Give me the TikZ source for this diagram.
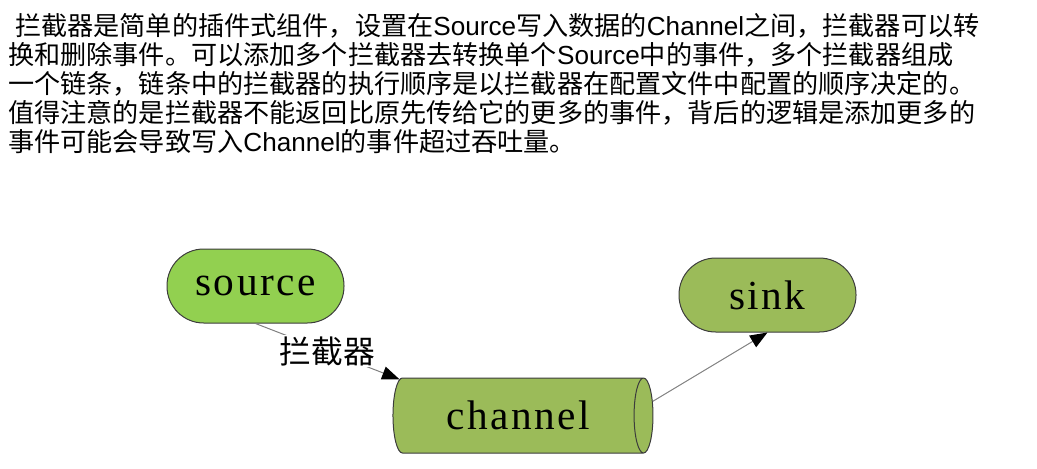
\documentclass[tikz,border=0pt]{standalone}
\usepackage{fontspec}
\usepackage{xcolor}
\setmainfont{Liberation Sans}
\newfontfamily\cjk{Noto Sans CJK SC}
\newfontfamily\nodefont[LetterSpace=6]{Liberation Serif}
\usetikzlibrary{positioning,shapes.geometric,arrows.meta}

\definecolor{srcgreen}{RGB}{146,208,80}
\definecolor{pipegreen}{RGB}{155,187,89}
\definecolor{rimgray}{RGB}{60,60,60}
\definecolor{flowgray}{RGB}{128,128,128}

\tikzset{
  textline/.style={anchor=base west,inner sep=0pt,font=\fontsize{19.6}{24}\selectfont},
  pill/.style={draw=rimgray,line width=0.75pt,rounded corners=27.5pt,minimum width=132.75pt,minimum height=55.5pt,inner sep=0pt,font=\nodefont\fontsize{31}{36}\selectfont},
  pipe/.style={shape=cylinder,draw=rimgray,fill=pipegreen,line width=0.75pt,aspect=0.65,minimum height=195pt,minimum width=56.25pt,inner sep=0pt,font=\nodefont\fontsize{31}{36}\selectfont},
  flow/.style={draw=flowgray,line width=0.75pt,-{Triangle[length=13pt,width=10pt,color=black]}},
}

\begin{document}
\begin{tikzpicture}[x=0.75pt,y=0.75pt,yscale=-1,xscale=1]
\useasboundingbox (0,0) rectangle (1037,468);

% Text Node
\node[textline] (line1) at (15,35) {{\cjk 拦截器是简单的插件式组件，设置在}Source{\cjk 写入数据的}Channel{\cjk 之间，拦截器可以转}};
% Text Node
\node[textline] (line2) at (8,64) {{\cjk 换和删除事件。可以添加多个拦截器去转换单个}Source{\cjk 中的事件，多个拦截器组成}};
% Text Node
\node[textline] (line3) at (8,93) {\cjk 一个链条，链条中的拦截器的执行顺序是以拦截器在配置文件中配置的顺序决定的。};
% Text Node
\node[textline] (line4) at (8,122) {\cjk 值得注意的是拦截器不能返回比原先传给它的更多的事件，背后的逻辑是添加更多的};
% Text Node
\node[textline] (line5) at (8,151) {{\cjk 事件可能会导致写入}Channel{\cjk 的事件超过吞吐量。}};

%Rounded Rect
\node[pill,fill=srcgreen] (source) at (255.5,286) {source};
%Rounded Rect
\node[pill,fill=pipegreen] (sink) at (767.5,295) {sink};
%Cylinder
\node[pipe] (channel) at (518,415.5) {channel};

%Straight Lines
\draw[flow] (source.south) -- node[fill=white,inner sep=1pt,font=\cjk\fontsize{23.8}{28}\selectfont] (intercept) {拦截器} (channel.163);
%Straight Lines
\draw[flow] (channel.6) -- (sink.south);
\end{tikzpicture}
\end{document}
